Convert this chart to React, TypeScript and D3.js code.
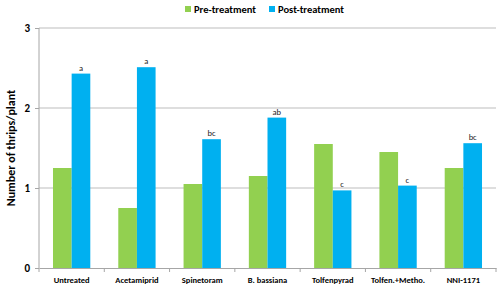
import React, { useEffect, useRef } from 'react';
import * as d3 from 'd3';

const categories = ['Untreated', 'Acetamiprid', 'Spinetoram', 'B. bassiana', 'Tolfenpyrad', 'Tolfen.+Metho.', 'NNI-1171'];
const preTreatment = [1.25, 0.75, 1.05, 1.15, 1.55, 1.45, 1.25];
const postTreatment = [2.43, 2.51, 1.61, 1.88, 0.97, 1.03, 1.56];
const postLetters = ['a', 'a', 'bc', 'ab', 'c', 'c', 'bc'];
const seriesNames = ['Pre-treatment', 'Post-treatment'];
const yTicks = [0, 1, 2, 3];

const colors = ['#92D050', '#00B0F0'];

const App = () => {
  const ref = useRef<SVGSVGElement>(null);

  useEffect(() => {
    const svg = d3.select(ref.current);
    svg.selectAll('*').remove();

    const width = 500;
    const height = 287;
    const margin = { left: 39, right: 4, top: 28, bottom: 19 };
    const font = 'Calibri, Carlito, "Liberation Sans", Arial, sans-serif';

    const x = d3.scaleBand<string>()
      .domain(categories)
      .range([margin.left, width - margin.right]);
    const inner = d3.scaleBand<string>()
      .domain(seriesNames)
      .range([0, x.bandwidth()])
      .paddingInner(0)
      .paddingOuter(0.75);
    const y = d3.scaleLinear()
      .domain([0, 3])
      .range([height - margin.bottom, margin.top]);

    // gridlines
    svg.append('g')
      .selectAll('line')
      .data(yTicks.filter(t => t > 0))
      .join('line')
      .attr('x1', margin.left)
      .attr('x2', width - margin.right)
      .attr('y1', d => y(d))
      .attr('y2', d => y(d))
      .attr('stroke', '#bdbdbd')
      .attr('stroke-width', 1);

    // bars
    const data = categories.map((c, i) => ({ c, vals: [preTreatment[i], postTreatment[i]] }));
    const groups = svg.append('g')
      .selectAll('g')
      .data(data)
      .join('g')
      .attr('transform', d => `translate(${x(d.c)},0)`);

    groups.selectAll('rect')
      .data(d => d.vals.map((v, i) => ({ v, s: seriesNames[i], i })))
      .join('rect')
      .attr('x', d => inner(d.s)!)
      .attr('width', inner.bandwidth())
      .attr('y', d => y(d.v))
      .attr('height', d => y(0) - y(d.v))
      .attr('fill', d => colors[d.i]);

    // significance letters
    svg.append('g')
      .selectAll('text')
      .data(categories)
      .join('text')
      .attr('x', (d) => x(d)! + inner('Post-treatment')! + inner.bandwidth() / 2)
      .attr('y', (d, i) => y(postTreatment[i]) - 3)
      .attr('text-anchor', 'middle')
      .attr('font-family', font)
      .attr('font-size', 8.5)
      .attr('fill', '#222')
      .text((d, i) => postLetters[i]);

    // y axis
    const yAxis = svg.append('g')
      .attr('transform', `translate(${margin.left},0)`)
      .call(d3.axisLeft(y).tickValues(yTicks).tickSize(4).tickFormat(d3.format('d')));
    yAxis.select('.domain').attr('stroke', '#a6a6a6').attr('d', `M0,${y(3)}V${y(0)}`);
    yAxis.selectAll('.tick line').attr('stroke', '#a6a6a6');
    yAxis.selectAll('.tick text')
      .attr('font-family', font)
      .attr('font-size', 11)
      .attr('font-weight', 'bold')
      .attr('fill', '#000')
      .attr('x', -9);

    // x axis
    const xAxis = svg.append('g')
      .attr('transform', `translate(0,${y(0)})`)
      .call(d3.axisBottom(x).tickSize(0).tickPadding(9));
    xAxis.select('.domain').attr('stroke', '#a6a6a6');
    xAxis.selectAll('.tick text')
      .attr('font-family', font)
      .attr('font-size', 8.5)
      .attr('font-weight', 'bold')
      .attr('fill', '#000');
    // tick marks between categories
    xAxis.append('g')
      .selectAll('line')
      .data(categories)
      .join('line')
      .attr('x1', d => x(d)!)
      .attr('x2', d => x(d)!)
      .attr('y1', 0)
      .attr('y2', 4)
      .attr('stroke', '#a6a6a6');
    xAxis.append('line')
      .attr('x1', width - margin.right)
      .attr('x2', width - margin.right)
      .attr('y1', 0)
      .attr('y2', 4)
      .attr('stroke', '#a6a6a6');

    // y title
    svg.append('text')
      .attr('transform', `translate(15,${(y(0) + y(3)) / 2}) rotate(-90)`)
      .attr('text-anchor', 'middle')
      .attr('font-family', font)
      .attr('font-size', 12)
      .attr('font-weight', 'bold')
      .attr('fill', '#000')
      .text('Number of thrips/plant');

    // legend
    const legendX = [185, 269];
    const legend = svg.append('g')
      .selectAll('g')
      .data(seriesNames)
      .join('g')
      .attr('transform', (d, i) => `translate(${legendX[i]},9)`);
    legend.append('rect')
      .attr('x', 0)
      .attr('y', -3)
      .attr('width', 6)
      .attr('height', 6)
      .attr('fill', (d, i) => colors[i]);
    legend.append('text')
      .attr('x', 9)
      .attr('y', 0)
      .attr('dy', '0.35em')
      .attr('font-family', font)
      .attr('font-size', 10.5)
      .attr('font-weight', 'bold')
      .attr('fill', '#000')
      .text(d => d);
  }, []);

  return (
    <svg
      ref={ref}
      width={500}
      height={287}
      style={{ position: 'absolute', left: 0, top: 0, background: '#fff' }}
    />
  );
};

export default App;
